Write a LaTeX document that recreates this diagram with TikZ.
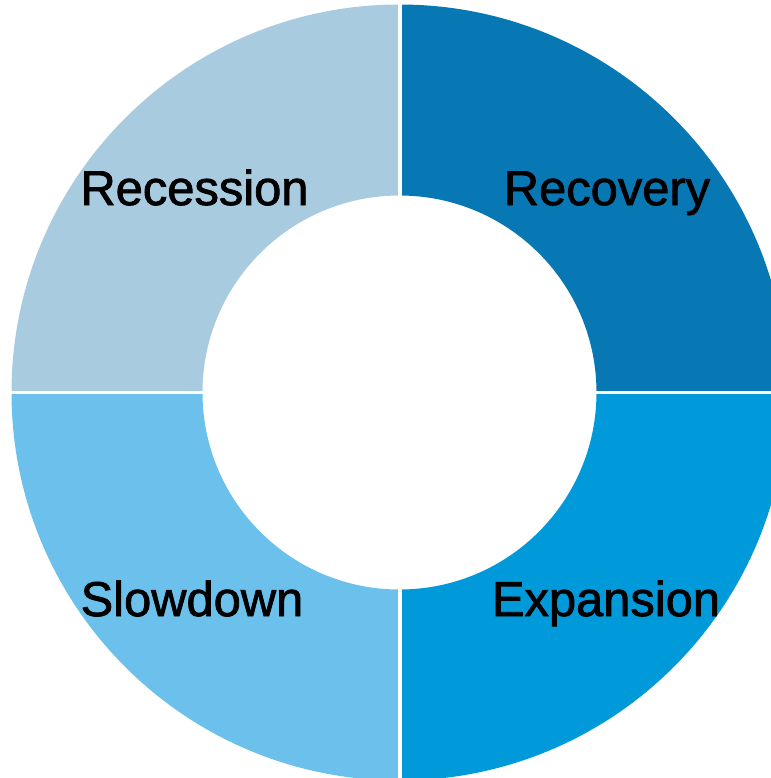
\documentclass[tikz,border=0pt]{standalone}
\usepackage{fontspec}
\setmainfont{Liberation Sans}
\newfontfamily\phasefont[FakeBold=1.6]{Liberation Sans}

\definecolor{recoverycol}{HTML}{0878B4}
\definecolor{expansioncol}{HTML}{009ADA}
\definecolor{slowdowncol}{HTML}{6BC1EC}
\definecolor{recessioncol}{HTML}{A8CBE0}

\tikzset{
	phase/.style={font=\phasefont\fontsize{13.9}{16}\selectfont, anchor=base, inner sep=0pt},
	gap/.style={white, line width=0.95pt}
}

\begin{document}
\begin{tikzpicture}
	\useasboundingbox (-3.995,-3.855) rectangle (3.715,3.925);
	\clip (-3.995,-3.855) rectangle (3.715,3.925);

	% ring quarters, outer radius 3.88, inner radius 1.97
	\fill[recoverycol] (0:1.97) -- (0:3.88) arc[start angle=0, end angle=90, radius=3.88] -- (90:1.97) arc[start angle=90, end angle=0, radius=1.97] -- cycle;
	\fill[recessioncol] (90:1.97) -- (90:3.88) arc[start angle=90, end angle=180, radius=3.88] -- (180:1.97) arc[start angle=180, end angle=90, radius=1.97] -- cycle;
	\fill[slowdowncol] (180:1.97) -- (180:3.88) arc[start angle=180, end angle=270, radius=3.88] -- (270:1.97) arc[start angle=270, end angle=180, radius=1.97] -- cycle;
	\fill[expansioncol] (270:1.97) -- (270:3.88) arc[start angle=270, end angle=360, radius=3.88] -- (0:1.97) arc[start angle=360, end angle=270, radius=1.97] -- cycle;

	% white seams between the quarters
	\draw[gap] (0.005,-3.9) -- (0.005,3.9);
	\draw[gap] (-3.9,0) -- (3.9,0);

	\node[phase] (recession) at (-2.05,1.875) {Recession};
	\node[phase] (recovery) at (2.075,1.875) {Recovery};
	\node[phase] (slowdown) at (-2.075,-2.235) {Slowdown};
	\node[phase] (expansion) at (2.065,-2.235) {Expansion};
\end{tikzpicture}
\end{document}
